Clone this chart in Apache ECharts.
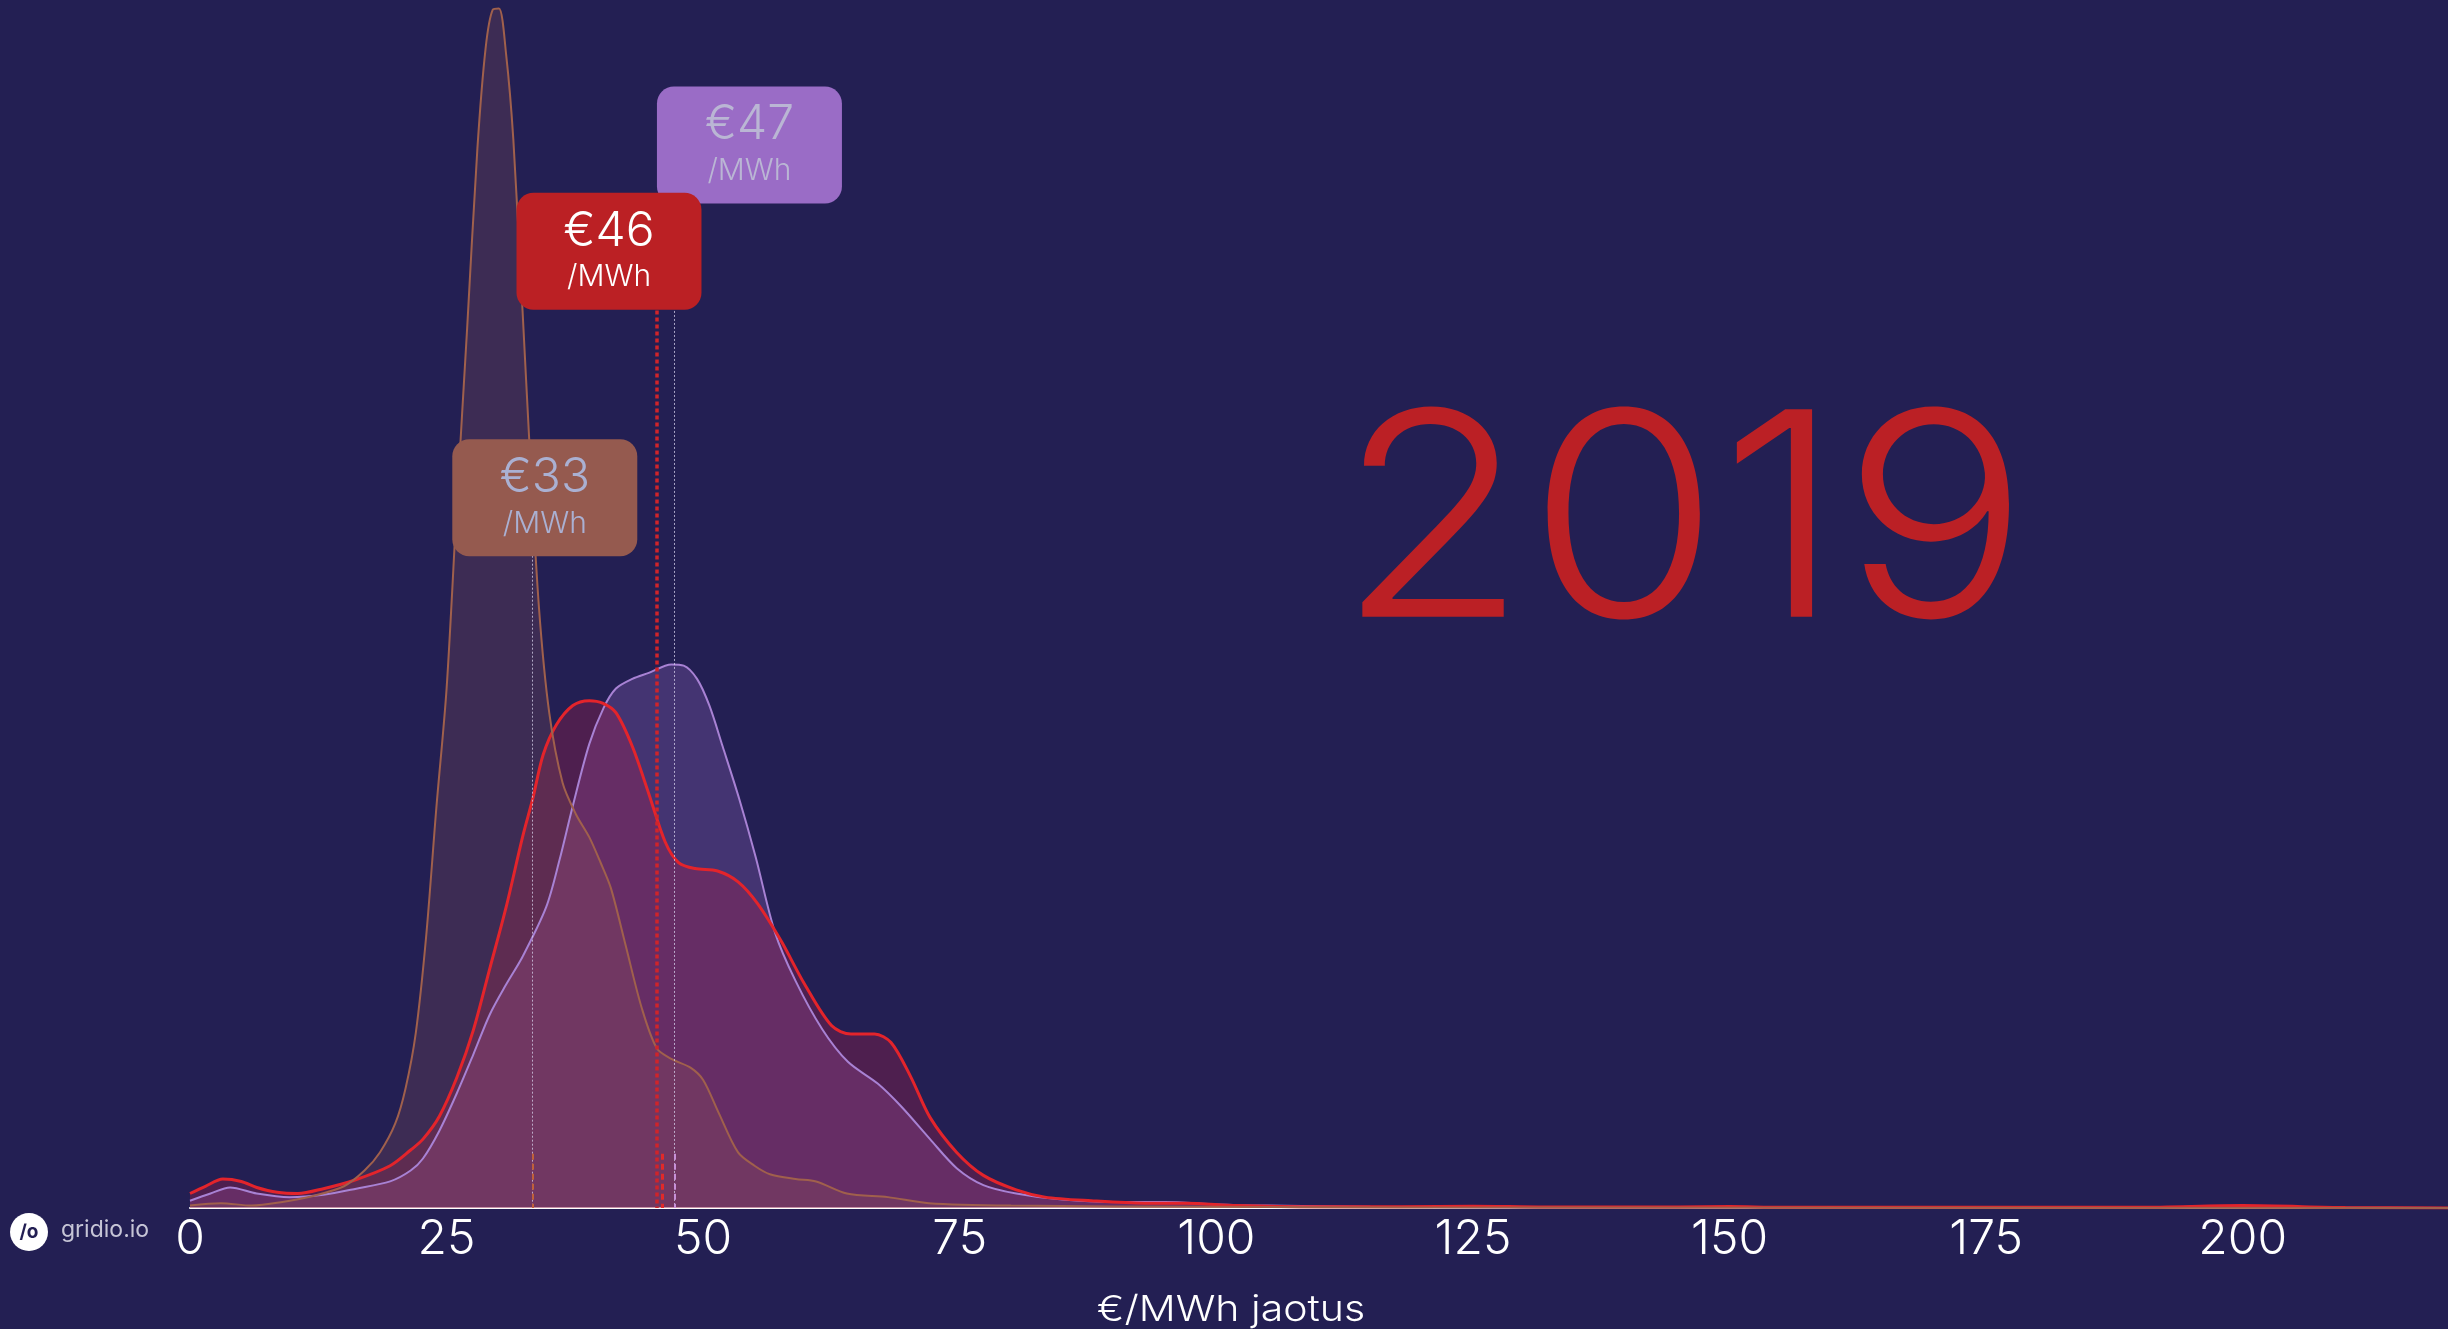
<!DOCTYPE html>
<html><head><meta charset="utf-8">
<script src="https://cdn.jsdelivr.net/npm/echarts@6/dist/echarts.min.js"></script>
<style>html,body{margin:0;padding:0;background:#231f53;}#c{width:2448px;height:1329px;}</style>
</head><body><div id="c"></div>
<script>
// ---- data (price €/MWh, density %/€) ----
var xTicks = [0, 25, 50, 75, 100, 125, 150, 175, 200];
var seriesNames = ['brown', 'red', 'purple'];
var brownX = [0,3,6,9,12,15,17,18.5,20,21,22,23,24,25,26,27,28,28.8,29.5,30.1,30.8,31.5,32.4,33.1,34,35,36.3,37.6,38.9,40,41,42.4,44,45.5,47,48.8,50,51.5,53.4,55,56.5,59,61,64,68,72,80,100,120,220];
var brownY = [0.02,0.04,0.02,0.05,0.10,0.18,0.31,0.46,0.70,0.99,1.45,2.24,3.31,4.30,5.83,7.28,8.77,9.60,9.92,9.93,9.55,8.85,7.43,6.28,4.97,4.10,3.52,3.26,3.07,2.86,2.65,2.19,1.66,1.32,1.23,1.16,1.06,0.79,0.46,0.35,0.28,0.24,0.22,0.12,0.09,0.04,0.02,0.01,0.005,0];
var redX = [0,1.5,3.2,5,6.5,8.5,10.5,13,16,19.5,21.5,22.7,24.3,26,27.6,29.2,30.8,32.4,33.4,34.4,35.7,37.3,38.9,40.2,41.5,43.1,44.7,46.3,47.6,49.2,51.4,53.4,55.3,57.6,59.9,62.5,64.4,66.7,68.3,70.2,72.1,74.7,77.3,80.5,83.3,87.8,93,97,102,110,118,125,132,145,150,155,190,200,210,220];
var redY = [0.12,0.18,0.24,0.22,0.17,0.13,0.12,0.16,0.23,0.35,0.48,0.57,0.76,1.08,1.47,1.98,2.49,3.07,3.39,3.75,4.00,4.16,4.20,4.18,4.10,3.82,3.43,3.03,2.86,2.81,2.79,2.70,2.52,2.21,1.85,1.51,1.44,1.44,1.37,1.09,0.75,0.46,0.27,0.15,0.09,0.06,0.04,0.04,0.02,0.01,0.01,0.015,0.008,0.008,0.012,0.006,0.006,0.02,0.004,0];
var purpleX = [0,2,3.9,6.5,9.7,13,16.2,19.5,21.5,22.7,24.3,26,27.6,29.2,30.8,32.4,34.7,36,37.3,38.9,40.3,41.5,43.1,44.7,46.9,48.1,49.4,50.6,51.9,53.5,55.1,57,59,61.6,64.1,67,69.3,72.1,74.7,77.3,80.5,85,90,95,100,105,115,130,190,200,210,220];
var purpleY = [0.06,0.12,0.17,0.12,0.09,0.11,0.16,0.22,0.31,0.41,0.64,0.95,1.27,1.60,1.85,2.08,2.49,2.88,3.33,3.84,4.14,4.30,4.38,4.43,4.50,4.49,4.38,4.16,3.82,3.39,2.91,2.28,1.88,1.48,1.21,1.03,0.84,0.57,0.33,0.19,0.12,0.07,0.05,0.05,0.03,0.02,0.01,0.005,0.005,0.015,0.003,0];
var meanPrice = [33.3, 45.5, 47.2];      // brown, red, purple
var rugPrice = [33.4, 46.0, 47.2];
var yearLabel = '2019';
var unitLabel = '/MWh';
var axisTitle = '€/MWh jaotus';

function zip(xs, ys) { return xs.map(function (x, i) { return [x, ys[i]]; }); }

var FONT = 'Inter, "Noto Sans", sans-serif';
var BG = '#231f53';
var lineCol = { brown: '#a0604c', red: '#e3242b', purple: '#a882d4' };
var fillCol = { brown: 'rgba(150,90,91,0.235)', red: 'rgba(187,31,69,0.29)', purple: 'rgba(154,108,198,0.28)' };
var boxCol = { brown: '#955a4f', red: '#bb2024', purple: '#9a6cc6' };
var boxText = { brown: '#aab0d2', red: '#ffffff', purple: '#bab6d4' };
var lineW = { brown: 2, red: 3, purple: 2 };

function areaSeries(name, xs, ys) {
  return {
    type: 'line', name: name, data: zip(xs, ys), smooth: 0.3,
    showSymbol: false, symbol: 'none', silent: true,
    lineStyle: { color: lineCol[name], width: lineW[name] },
    areaStyle: { color: fillCol[name], opacity: 1 },
    z: 2
  };
}

// annotation layout (levels for the label boxes, pixel offsets)
var boxLevel = { brown: 5.88, red: 7.92, purple: 8.80 };
var boxOffset = { brown: 13, red: -48, purple: 75 };
var lineTop = { brown: 5.40, red: 7.43, purple: 8.32 };
var idx = { brown: 0, red: 1, purple: 2 };

var boxPath = 'path://M17,0 H168 A17,17 0 0 1 185,17 V100 A17,17 0 0 1 168,117 H17 A17,17 0 0 1 0,100 V17 A17,17 0 0 1 17,0 Z';

var meanLines = ['brown', 'purple', 'red'].map(function (n) {
  var m = meanPrice[idx[n]];
  var st = n === 'red'
    ? { color: '#d0242a', width: 3.5, type: [4, 3] }
    : { color: 'rgba(215,210,235,0.75)', width: 1, type: [2, 2] };
  return [{ coord: [m, lineTop[n]], lineStyle: st }, { coord: [m, 0] }];
});
var rugCol = { brown: '#c0603a', red: '#e02a2a', purple: '#c890d8' };
var rugLines = ['brown', 'purple', 'red'].map(function (n) {
  var r = rugPrice[idx[n]];
  return [{ coord: [r, 0.45], lineStyle: { color: rugCol[n], width: n === 'red' ? 3 : 2, type: [6, 4] } }, { coord: [r, 0] }];
});

var boxes = ['brown', 'purple', 'red'].map(function (n) {
  var m = meanPrice[idx[n]];
  return {
    coord: [m, boxLevel[n]], symbol: boxPath, symbolSize: [185, 117], symbolOffset: [boxOffset[n], 0],
    itemStyle: { color: boxCol[n] },
    label: {
      show: true, position: 'inside', align: 'center', verticalAlign: 'middle',
      formatter: '{a|€' + Math.round(m) + '}\n{b|' + unitLabel + '}',
      rich: {
        a: { fontSize: 48, lineHeight: 52, color: boxText[n], fontFamily: FONT, fontWeight: 300 },
        b: { fontSize: 30, lineHeight: 40, color: boxText[n], fontFamily: FONT, fontWeight: 300 }
      }
    }
  };
});

var option = {
  backgroundColor: BG,
  animation: false,
  grid: { left: 190, right: 0, top: 0, bottom: 121, containLabel: false },
  xAxis: {
    type: 'value', min: xTicks[0], max: 220, interval: xTicks[1] - xTicks[0],
    axisLine: { show: true, lineStyle: { color: '#ffffff', width: 2 } },
    axisTick: { show: false }, splitLine: { show: false },
    axisLabel: { color: '#ffffff', fontSize: 48, fontFamily: FONT, fontWeight: 300, margin: 8, showMaxLabel: false }
  },
  yAxis: { type: 'value', min: 0, max: 10, show: false },
  series: [
    areaSeries('purple', purpleX, purpleY),
    areaSeries('red', redX, redY),
    areaSeries('brown', brownX, brownY),
    {
      type: 'line', data: [], silent: true, z: 5,
      markLine: { symbol: 'none', silent: true, animation: false, label: { show: false },
        data: meanLines.concat(rugLines) }
    },
    {
      type: 'line', data: [], silent: true, z: 10,
      markPoint: { silent: true, animation: false, data: boxes }
    }
  ],
  graphic: [
    { type: 'text', x: 1683, y: 531, scaleX: 1.09, style: { text: yearLabel, fill: '#bb2025', font: '300 285px ' + FONT, textAlign: 'center', textVerticalAlign: 'middle' }, z: 1 },
    { type: 'text', x: 1231, y: 1310, scaleX: 1.14, style: { text: axisTitle, fill: '#ffffff', font: '300 36px ' + FONT, textAlign: 'center', textVerticalAlign: 'middle' } },
    { type: 'circle', shape: { cx: 29, cy: 1232, r: 19 }, style: { fill: '#ffffff' } },
    { type: 'text', x: 29, y: 1232, style: { text: '/o', fill: BG, font: 'bold 19px ' + FONT, textAlign: 'center', textVerticalAlign: 'middle' } },
    { type: 'text', x: 61, y: 1230, style: { text: 'gridio.io', fill: '#c6c5d6', font: '23px ' + FONT, textAlign: 'left', textVerticalAlign: 'middle' } }
  ]
};

var chart = echarts.init(document.getElementById('c'), null, { renderer: 'canvas', width: 2448, height: 1329 });
chart.setOption(option);
</script>
</body></html>
